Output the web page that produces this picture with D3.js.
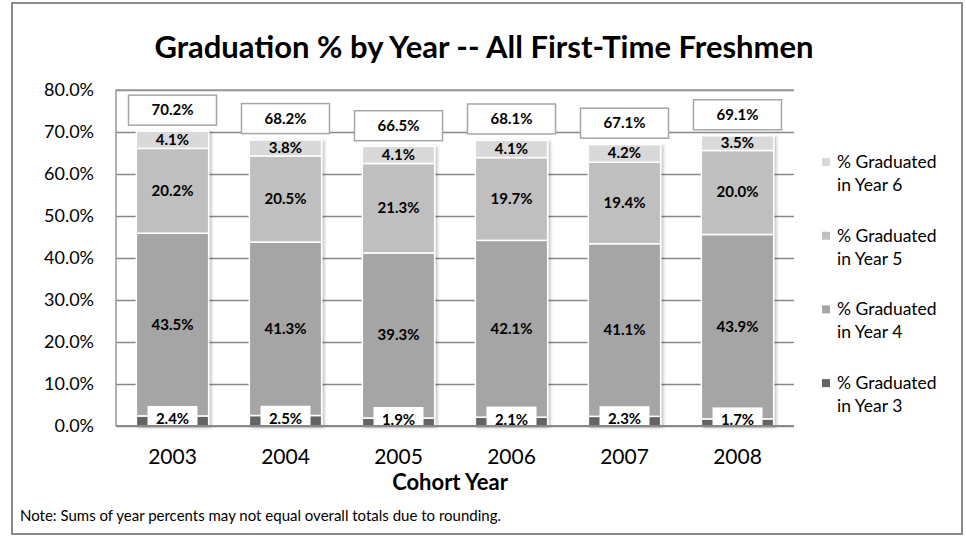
<!DOCTYPE html>
<html>
<head>
<meta charset="utf-8">
<script src="https://cdn.jsdelivr.net/npm/d3@7"></script>
<style>
  body { margin: 0; background: #fff; }
  text { font-family: Lato, "Open Sans", sans-serif; }
</style>
</head>
<body>
<svg id="chart" width="966" height="537"></svg>
<script>
// data
var years = ['2003', '2004', '2005', '2006', '2007', '2008']
var year3 = [2.4, 2.5, 1.9, 2.1, 2.3, 1.7]
var year4 = [43.5, 41.3, 39.3, 42.1, 41.1, 43.9]
var year5 = [20.2, 20.5, 21.3, 19.7, 19.4, 20.0]
var year6 = [4.1, 3.8, 4.1, 4.1, 4.2, 3.5]
var totals = [70.2, 68.2, 66.5, 68.1, 67.1, 69.1]
var yTicks = [0, 10, 20, 30, 40, 50, 60, 70, 80]

var seriesKeys = ['y3', 'y4', 'y5', 'y6']
var seriesNames = ['% Graduated in Year 3', '% Graduated in Year 4', '% Graduated in Year 5', '% Graduated in Year 6']
var colors = { y3: '#646464', y4: '#a5a5a5', y5: '#bfbfbf', y6: '#d9d9d9' }

var rows = years.map(function (yr, i) {
  return { year: yr, y3: year3[i], y4: year4[i], y5: year5[i], y6: year6[i], total: totals[i] }
})

var svg = d3.select('#chart')
  , plotLeft = 116
  , plotRight = 794
  , plotTop = 90
  , plotBottom = 426
  , pct = d3.format('.1f')

// outer frame
svg.append('rect')
  .attr('x', 12).attr('y', 3)
  .attr('width', 950).attr('height', 531)
  .attr('fill', '#fff')
  .attr('stroke', '#8c8c8c')
  .attr('stroke-width', 2)

var defs = svg.append('defs')
var shadow = defs.append('filter').attr('id', 'shadow')
  .attr('x', '-20%').attr('y', '-5%').attr('width', '140%').attr('height', '110%')
shadow.append('feDropShadow')
  .attr('dx', 2).attr('dy', 1).attr('stdDeviation', 1.5)
  .attr('flood-color', '#000').attr('flood-opacity', 0.25)

// title
svg.append('text')
  .attr('x', 484).attr('y', 58)
  .attr('text-anchor', 'middle')
  .style('font-size', '31px')
  .style('font-weight', 'bold')
  .text('Graduation % by Year -- All First-Time Freshmen')

var x = d3.scaleBand()
  .domain(years)
  .range([plotLeft, plotRight])
  .paddingInner(0.36)
  .paddingOuter(0.18)

var y = d3.scaleLinear()
  .domain([0, 80])
  .range([plotBottom, plotTop])

// y axis with gridlines
var yAxis = svg.append('g')
  .attr('transform', 'translate(' + plotLeft + ',0)')
  .call(d3.axisLeft(y)
    .tickValues(yTicks)
    .tickSize(-(plotRight - plotLeft))
    .tickPadding(22)
    .tickFormat(function (d) { return pct(d) + '%' }))
yAxis.select('.domain').remove()
yAxis.selectAll('line').attr('stroke', '#888').attr('stroke-width', 1.5)
yAxis.selectAll('text')
  .style('font-size', '18px')
  .style('font-family', 'Lato, sans-serif')
  .attr('fill', '#000')

// plot border left / top
svg.append('path')
  .attr('d', 'M' + plotLeft + ',' + plotBottom + 'V' + plotTop + 'H' + plotRight)
  .attr('fill', 'none')
  .attr('stroke', '#999')
  .attr('stroke-width', 1.5)

// stacked bars
var stacked = d3.stack().keys(seriesKeys)(rows)

var barGroup = svg.append('g').attr('filter', 'url(#shadow)')
stacked.forEach(function (layer) {
  barGroup.selectAll('.bar-' + layer.key)
    .data(layer)
    .enter()
    .append('rect')
    .attr('class', 'bar-' + layer.key)
    .attr('x', function (d) { return x(d.data.year) })
    .attr('width', x.bandwidth())
    .attr('y', function (d) { return y(d[1]) })
    .attr('height', function (d) { return y(d[0]) - y(d[1]) })
    .attr('fill', colors[layer.key])
    .attr('stroke', '#fff')
    .attr('stroke-width', 1.5)
})

// x axis line
svg.append('line')
  .attr('x1', plotLeft).attr('x2', plotRight)
  .attr('y1', plotBottom).attr('y2', plotBottom)
  .attr('stroke', '#888').attr('stroke-width', 2)

// segment labels (years 4-6)
stacked.slice(1).forEach(function (layer) {
  svg.append('g')
    .selectAll('text')
    .data(layer)
    .enter()
    .append('text')
    .attr('x', function (d) { return x(d.data.year) + x.bandwidth() / 2 })
    .attr('y', function (d) { return y((d[0] + d[1]) / 2) + 5 })
    .attr('text-anchor', 'middle')
    .style('font-size', '15px')
    .style('font-weight', 'bold')
    .text(function (d) { return pct(d[1] - d[0]) + '%' })
})

// year 3 labels sit in white boxes on the axis
var y3Labels = svg.append('g')
  .selectAll('g')
  .data(stacked[0])
  .enter()
  .append('g')
  .attr('transform', function (d) {
    return 'translate(' + (x(d.data.year) + x.bandwidth() / 2) + ',' + y((d[0] + d[1]) / 2) + ')'
  })
y3Labels.append('rect')
  .attr('x', -25).attr('y', -15)
  .attr('width', 50)
  .attr('height', function (d) { return 15 + plotBottom - y((d[0] + d[1]) / 2) - 1 })
  .attr('fill', '#fff')
y3Labels.append('text')
  .attr('y', 3)
  .attr('text-anchor', 'middle')
  .style('font-size', '15px')
  .style('font-weight', 'bold')
  .text(function (d) { return pct(d[1] - d[0]) + '%' })

// total boxes above bars
var totalLabels = svg.append('g')
  .selectAll('g')
  .data(rows)
  .enter()
  .append('g')
  .attr('transform', function (d) {
    return 'translate(' + (x(d.year) + x.bandwidth() / 2) + ',' + (y(d.total) - 6) + ')'
  })
totalLabels.append('rect')
  .attr('x', -44).attr('y', -30)
  .attr('width', 88).attr('height', 30)
  .attr('fill', '#fff')
  .attr('stroke', '#a6a6a6')
  .attr('stroke-width', 1.5)
totalLabels.append('text')
  .attr('y', -10)
  .attr('text-anchor', 'middle')
  .style('font-size', '15px')
  .style('font-weight', 'bold')
  .text(function (d) { return pct(d.total) + '%' })

// x axis labels
var xAxis = svg.append('g')
  .attr('transform', 'translate(0,' + plotBottom + ')')
  .call(d3.axisBottom(x).tickSize(0).tickPadding(23))
xAxis.select('.domain').remove()
xAxis.selectAll('text')
  .style('font-size', '21px')
  .style('font-family', 'Lato, sans-serif')
  .attr('fill', '#000')

svg.append('text')
  .attr('x', 450).attr('y', 490)
  .attr('text-anchor', 'middle')
  .style('font-size', '22px')
  .style('font-weight', 'bold')
  .text('Cohort Year')

// legend, top entry is year 6
var legend = svg.append('g')
  .selectAll('g')
  .data(seriesKeys.slice().reverse())
  .enter()
  .append('g')
  .attr('transform', function (d, i) { return 'translate(822,' + (162 + i * 73.7) + ')' })
legend.append('rect')
  .attr('x', 0).attr('y', -4)
  .attr('width', 8).attr('height', 8)
  .attr('fill', function (d) { return colors[d] })
legend.append('text')
  .attr('x', 15).attr('y', 6)
  .style('font-size', '17.5px')
  .each(function (d) {
    var name = seriesNames[seriesKeys.indexOf(d)]
    var parts = [name.slice(0, 11), name.slice(12)]
    for (let i = 0; i < parts.length; i++) {
      d3.select(this)
        .append('tspan')
        .attr('x', 15)
        .attr('dy', i ? 23 : 0)
        .text(parts[i])
    }
  })

// footnote
svg.append('text')
  .attr('x', 20).attr('y', 521)
  .style('font-size', '15px')
  .text('Note: Sums of year percents may not equal overall totals due to rounding.')
</script>
</body>
</html>
